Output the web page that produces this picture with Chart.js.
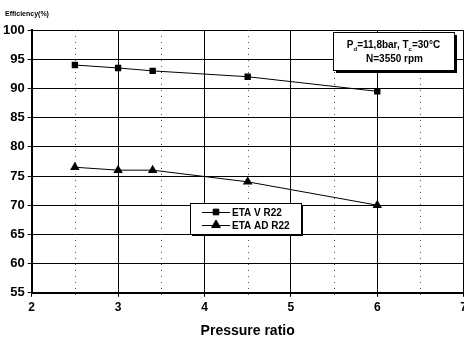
<!DOCTYPE html>
<html><head><meta charset="utf-8">
<script src="https://cdn.jsdelivr.net/npm/chart.js@4/dist/chart.umd.min.js"></script>
<style>
html,body{margin:0;padding:0;background:#fff;overflow:hidden;width:464px;height:340px;}
#wrap{width:471px;height:340px;}
</style></head><body>
<div id="wrap"><canvas id="c" width="471" height="340"></canvas></div>
<script>
const pressureRatio = [2.5, 3, 3.4, 4.5, 6];
const etaV = [94, 93.5, 93, 92, 89.5];
const etaAD = [76.5, 76, 76, 74, 70];
const seriesNames = ['ETA V R22', 'ETA AD R22'];
const xTicks = [2, 3, 4, 5, 6, 7];
const minorX = [2.5, 3.5, 4.5, 5.5, 6.5];
const yTicks = [55, 60, 65, 70, 75, 80, 85, 90, 95, 100];

const FONT = '"Liberation Sans", Arial, sans-serif';

const decor = {
  id: 'decor',
  beforeDatasetsDraw(chart) {
    const {ctx, chartArea: a, scales: {x}} = chart;
    ctx.save();
    ctx.strokeStyle = '#555';
    ctx.lineWidth = 1;
    ctx.setLineDash([1, 5]);
    minorX.forEach(v => {
      const px = Math.round(x.getPixelForValue(v)) + 0.5;
      ctx.beginPath(); ctx.moveTo(px, a.top); ctx.lineTo(px, a.bottom + 3); ctx.stroke();
    });
    ctx.restore();
  },
  afterDraw(chart) {
    const {ctx} = chart;
    ctx.save();
    ctx.fillStyle = '#000';
    ctx.font = 'bold 7px ' + FONT;
    ctx.textBaseline = 'alphabetic';
    ctx.textAlign = 'left';
    ctx.fillText('Efficiency(%)', 5, 16);

    // annotation box
    let bx = 333, by = 32, bw = 121, bh = 38;
    ctx.fillStyle = '#000';
    ctx.fillRect(bx + 3, by + 3, bw, bh);
    ctx.fillStyle = '#fff';
    ctx.fillRect(bx, by, bw, bh);
    ctx.strokeStyle = '#000'; ctx.lineWidth = 1;
    ctx.strokeRect(bx + 0.5, by + 0.5, bw, bh);
    ctx.fillStyle = '#000';
    const f = 'bold 10px ' + FONT, fs = 'bold 6px ' + FONT;
    const parts = [['P', f, 0], ['d', fs, 3], ['=11,8bar, T', f, 0], ['c', fs, 3], ['=30°C', f, 0]];
    let tw = 0;
    parts.forEach(p => { ctx.font = p[1]; tw += ctx.measureText(p[0]).width; });
    let tx = bx + bw / 2 - tw / 2;
    parts.forEach(p => { ctx.font = p[1]; ctx.fillText(p[0], tx, by + 16 + p[2]); tx += ctx.measureText(p[0]).width; });
    ctx.font = f; ctx.textAlign = 'center';
    ctx.fillText('N=3550 rpm', bx + bw / 2 + 1, by + 30);

    // legend box
    const lx = 190, ly = 203, lw = 111, lh = 31;
    ctx.fillStyle = '#000';
    ctx.fillRect(lx + 2, ly + 2, lw, lh);
    ctx.fillStyle = '#fff';
    ctx.fillRect(lx, ly, lw, lh);
    ctx.strokeRect(lx + 0.5, ly + 0.5, lw, lh);
    chart.data.datasets.forEach((ds, i) => {
      const yy = ly + 9 + i * 13;
      ctx.strokeStyle = '#000'; ctx.fillStyle = '#000'; ctx.lineWidth = 1;
      ctx.beginPath(); ctx.moveTo(lx + 12, yy + 0.5); ctx.lineTo(lx + 40, yy + 0.5); ctx.stroke();
      Chart.helpers.drawPoint(ctx, {pointStyle: ds.pointStyle, radius: ds.pointRadius - 0.5, borderWidth: 1}, lx + 26, yy);
      ctx.fillStyle = '#000';
      ctx.font = 'bold 10px ' + FONT; ctx.textAlign = 'left'; ctx.textBaseline = 'middle';
      ctx.fillText(ds.label, lx + 42, yy + 1);
    });
    ctx.restore();
  }
};

new Chart(document.getElementById('c'), {
  type: 'line',
  data: {
    datasets: [
      {label: seriesNames[0], data: pressureRatio.map((p, i) => ({x: p, y: etaV[i]})),
       borderColor: '#000', backgroundColor: '#000', borderWidth: 1, pointStyle: 'rect', pointRadius: 4.5, pointBorderWidth: 0},
      {label: seriesNames[1], data: pressureRatio.map((p, i) => ({x: p, y: etaAD[i]})),
       borderColor: '#000', backgroundColor: '#000', borderWidth: 1, pointStyle: 'triangle', pointRadius: 5.5, pointBorderWidth: 0}
    ]
  },
  options: {
    responsive: false, animation: false, devicePixelRatio: 1,
    layout: {padding: {top: 30, left: 0, right: 0, bottom: 0}},
    plugins: {legend: {display: false}, tooltip: {enabled: false}},
    scales: {
      x: {
        type: 'linear', min: 2, max: 7,
        afterBuildTicks: s => { s.ticks = xTicks.map(v => ({value: v})); },
        grid: {color: '#000', lineWidth: 1, tickLength: 4, drawTicks: true},
        border: {color: '#000', width: 2},
        ticks: {color: '#000', font: {family: FONT, size: 12, weight: 'bold'}, padding: 4, maxRotation: 0},
        title: {display: true, text: 'Pressure ratio', color: '#000', font: {family: FONT, size: 14, weight: 'bold'}, padding: {top: 4, bottom: 0}}
      },
      y: {
        min: 55, max: 100,
        afterBuildTicks: s => { s.ticks = yTicks.map(v => ({value: v})); },
        grid: {color: '#000', lineWidth: 1, tickLength: 4},
        border: {color: '#000', width: 2},
        ticks: {color: '#000', font: {family: FONT, size: 13, weight: 'bold'}, padding: 3}
      }
    }
  },
  plugins: [decor]
});
</script>
</body></html>
